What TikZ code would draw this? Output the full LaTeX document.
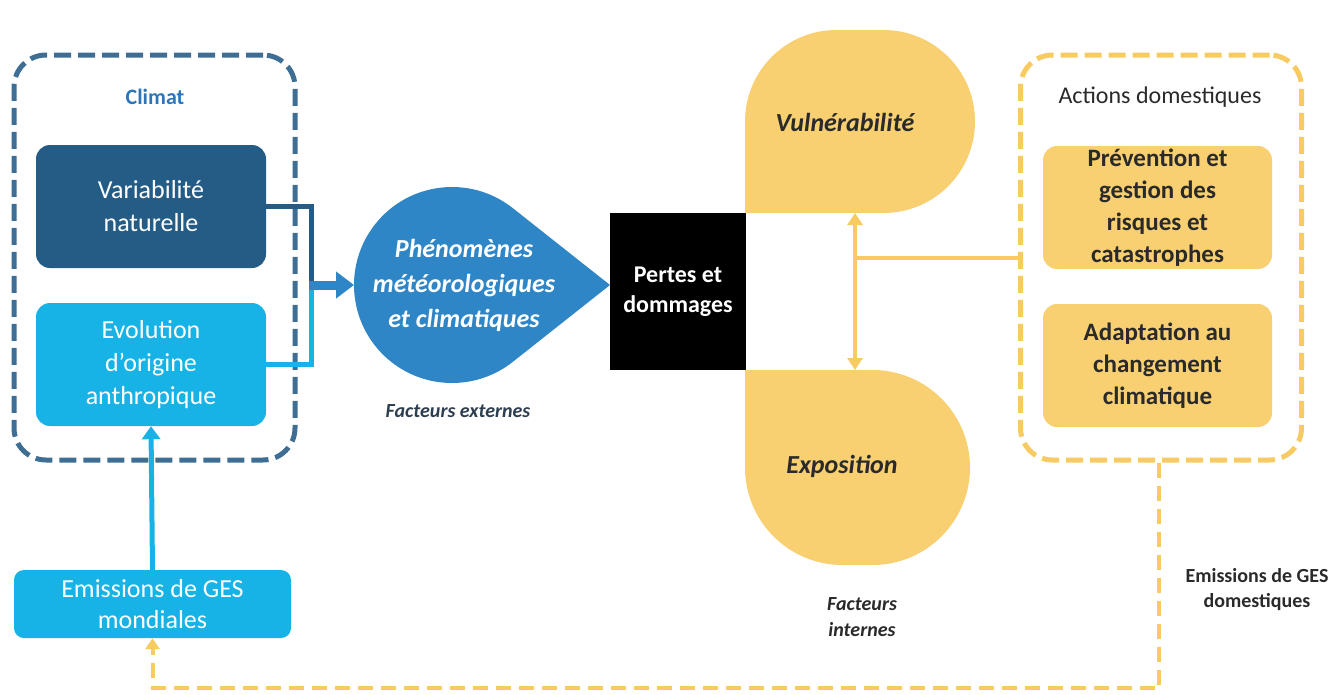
\documentclass[tikz,border=0pt]{standalone}
\usepackage{fontspec}
\setmainfont{Carlito}
\usetikzlibrary{arrows.meta,calc}
\definecolor{dkblue}{HTML}{245C86}
\definecolor{ltblue}{HTML}{17B2E6}
\definecolor{mdblue}{HTML}{2F86C6}
\definecolor{clborder}{HTML}{3F6E94}
\definecolor{climtxt}{HTML}{2E75B6}
\definecolor{yel}{HTML}{F8D072}
\definecolor{yelline}{HTML}{F7CB62}
\definecolor{txtdark}{HTML}{2A2A2A}
\definecolor{extxt}{HTML}{2C3E50}
\begin{document}
\begin{tikzpicture}[x=1pt,y=-1pt,
  box/.style={rounded corners=14, minimum width=230, minimum height=123, align=center, inner sep=0pt},
  dashbox/.style={draw, line width=5, dash pattern=on 17pt off 7pt, rounded corners=32, minimum width=281, minimum height=405, inner sep=0pt},
  wtxt/.style={text=white, font=\fontsize{26}{33}\selectfont},
  ytxt/.style={text=txtdark, font=\fontsize{25}{32}\selectfont\bfseries},
  lab/.style={align=center, inner sep=0pt},
]
\useasboundingbox (0,0) rectangle (1344,694);

% ---------- Climat group
\node[dashbox, draw=clborder] (clim) at (154.5,257.5) {};
\node[lab, text=climtxt, font=\fontsize{22}{26}\selectfont\bfseries] (climt) at (155,97) {Climat};
\node[box, fill=dkblue, wtxt] (var) at (151,206.5) {Variabilité\\naturelle};
\node[box, fill=ltblue, wtxt] (evo) at (151,364.5) {Evolution\\d’origine\\anthropique};
\node[box, fill=ltblue, wtxt, minimum width=277, minimum height=68, rounded corners=10,
      font=\fontsize{26}{31}\selectfont] (emis) at (152.5,604) {Emissions de GES\\mondiales};

% ---------- Teardrop (Phénomènes)
\coordinate (tc) at (452,285);
\coordinate (ttip) at (610,285);
\fill[mdblue] (ttip) -- ($(tc)+(-51.66:98)$) arc[start angle=-51.66, end angle=-308.34, radius=98] -- cycle;
\coordinate (tw) at (354,285);
\node[lab, text=white, font=\fontsize{26}{35}\selectfont\bfseries\itshape] (phen) at (464,285)
  {Phénomènes\\météorologiques\\et climatiques};
\node[lab, text=extxt, font=\fontsize{20}{24}\selectfont\bfseries\itshape] (fext) at (458,411) {Facteurs externes};

% ---------- Blue connectors
\coordinate (m) at (311,285);
\draw[dkblue, line width=5] (var.east) -| (m);
\draw[ltblue, line width=5] (evo.east) -| (m);
\draw[mdblue, line width=9, -{Triangle[length=18pt, width=26pt]}] ([xshift=-2.5pt]m) -- (tw);
\draw[ltblue, line width=5, -{Triangle[length=13pt, width=18pt]}] (emis.north) -- (evo.south);

% ---------- Pertes et dommages
\node[fill=black, minimum width=136, minimum height=157, inner sep=0pt, align=center,
      text=white, font=\fontsize{24}{30}\selectfont\bfseries] (pertes) at (678,291.5) {Pertes et\\dommages};

% ---------- Vulnérabilité
\fill[yel] (745,213) -- (745,121.5) arc[start angle=180, end angle=270, radius=91.5]
  -- (883.5,30) arc[start angle=270, end angle=360, radius=91.5]
  arc[start angle=0, end angle=90, radius=91.5] -- cycle;
\node[lab, text=txtdark, font=\fontsize{26}{30}\selectfont\bfseries\itshape] (vul) at (845,122) {Vulnérabilité};

% ---------- Exposition
\fill[yel] (745,370) -- (872.5,370) arc[start angle=270, end angle=360, radius=97.5]
  arc[start angle=0, end angle=90, radius=97.5]
  -- (842.5,565) arc[start angle=90, end angle=180, radius=97.5] -- cycle;
\node[lab, text=txtdark, font=\fontsize{26}{30}\selectfont\bfseries\itshape] (expo) at (842,466) {Exposition};
\node[lab, text=txtdark, font=\fontsize{20}{26}\selectfont\bfseries\itshape] (fint) at (862,617) {Facteurs\\internes};

% ---------- Actions domestiques group
\node[dashbox, draw=yelline] (act) at (1161,257.5) {};
\node[lab, text=txtdark, font=\fontsize{24}{28}\selectfont] (actt) at (1160,97) {Actions domestiques};
\node[box, fill=yel, ytxt, minimum width=229] (prev) at (1157.5,207.5) {Prévention et\\gestion des\\risques et\\catastrophes};
\node[box, fill=yel, ytxt, minimum width=229] (adap) at (1157.5,365.5) {Adaptation au\\changement\\climatique};
\node[lab, text=txtdark, font=\fontsize{20}{25}\selectfont\bfseries] (edom) at (1257,590) {Emissions de GES\\domestiques};

% ---------- Yellow connectors
\coordinate (vb) at (855,213);
\coordinate (et) at (855,370);
\coordinate (j) at (855,258);
\draw[yelline, line width=4, {Triangle[length=12pt, width=15pt]}-{Triangle[length=12pt, width=15pt]}] (vb) -- (et);
\draw[yelline, line width=4] (j) -- (j -| act.west);
\coordinate (rb) at (1159,688);
\draw[yelline, line width=4, dash pattern=on 15pt off 8pt, -{Triangle[length=11pt, width=14pt]}]
  (rb |- act.south) -- (rb) -| (emis.south);
\end{tikzpicture}
\end{document}
